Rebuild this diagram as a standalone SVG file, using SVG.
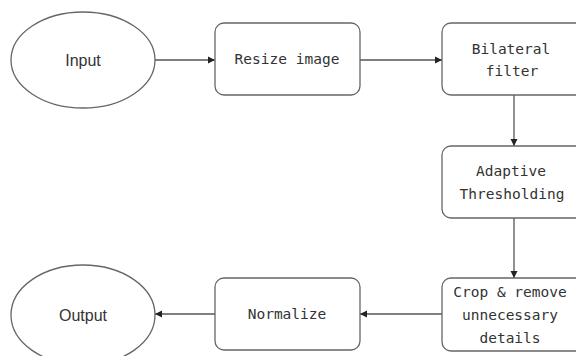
<svg xmlns="http://www.w3.org/2000/svg" width="576" height="356" viewBox="0 0 576 356">
<defs>
<marker id="ah" markerWidth="8" markerHeight="8" refX="7" refY="4" orient="auto" markerUnits="userSpaceOnUse">
<path d="M0,0.5 L7,4 L0,7.5 Z" fill="#222"/>
</marker>
<style>
.n{fill:#fff;stroke:#666;stroke-width:1.3}
.m{font-family:"DejaVu Sans Mono","Liberation Mono",monospace;font-size:14.5px;fill:#333;text-anchor:middle;dominant-baseline:central}
.s{font-family:"Liberation Sans",Arial,sans-serif;font-size:16px;fill:#333;text-anchor:middle;dominant-baseline:central}
.c{stroke:#555;stroke-width:1.3;fill:none;marker-end:url(#ah)}
</style>
</defs>
<rect width="576" height="356" fill="#fff"/>
<g id="connectors">
<line class="c" x1="155" y1="60" x2="215" y2="60"/>
<line class="c" x1="360" y1="60" x2="442" y2="60"/>
<line class="c" x1="514" y1="95" x2="514" y2="146"/>
<line class="c" x1="514" y1="218" x2="514" y2="278"/>
<line class="c" x1="442" y1="314" x2="360" y2="314"/>
<line class="c" x1="215" y1="314" x2="155" y2="314"/>
</g>
<g id="input">
<ellipse class="n" cx="83" cy="60" rx="72" ry="48"/>
<text class="s" x="83" y="60">Input</text>
</g>
<g id="resize">
<rect class="n" x="215" y="23" width="145" height="72" rx="9"/>
<text class="m" x="287" y="59">Resize image</text>
</g>
<g id="bilateral">
<rect class="n" x="442" y="23" width="145" height="72" rx="9"/>
<text class="m" x="511" y="49">Bilateral</text>
<text class="m" x="512" y="71">filter</text>
</g>
<g id="adaptive">
<rect class="n" x="442" y="146" width="145" height="72" rx="9"/>
<text class="m" x="511" y="171">Adaptive</text>
<text class="m" x="512" y="194">Thresholding</text>
</g>
<g id="crop">
<rect class="n" x="442" y="278" width="145" height="73" rx="9"/>
<text class="m" x="510" y="292">Crop &amp; remove</text>
<text class="m" x="510" y="315">unnecessary</text>
<text class="m" x="510" y="338">details</text>
</g>
<g id="normalize">
<rect class="n" x="215" y="278" width="145" height="72" rx="9"/>
<text class="m" x="287" y="314">Normalize</text>
</g>
<g id="output">
<ellipse class="n" cx="83" cy="315" rx="72" ry="50"/>
<text class="s" x="83" y="315">Output</text>
</g>
</svg>
